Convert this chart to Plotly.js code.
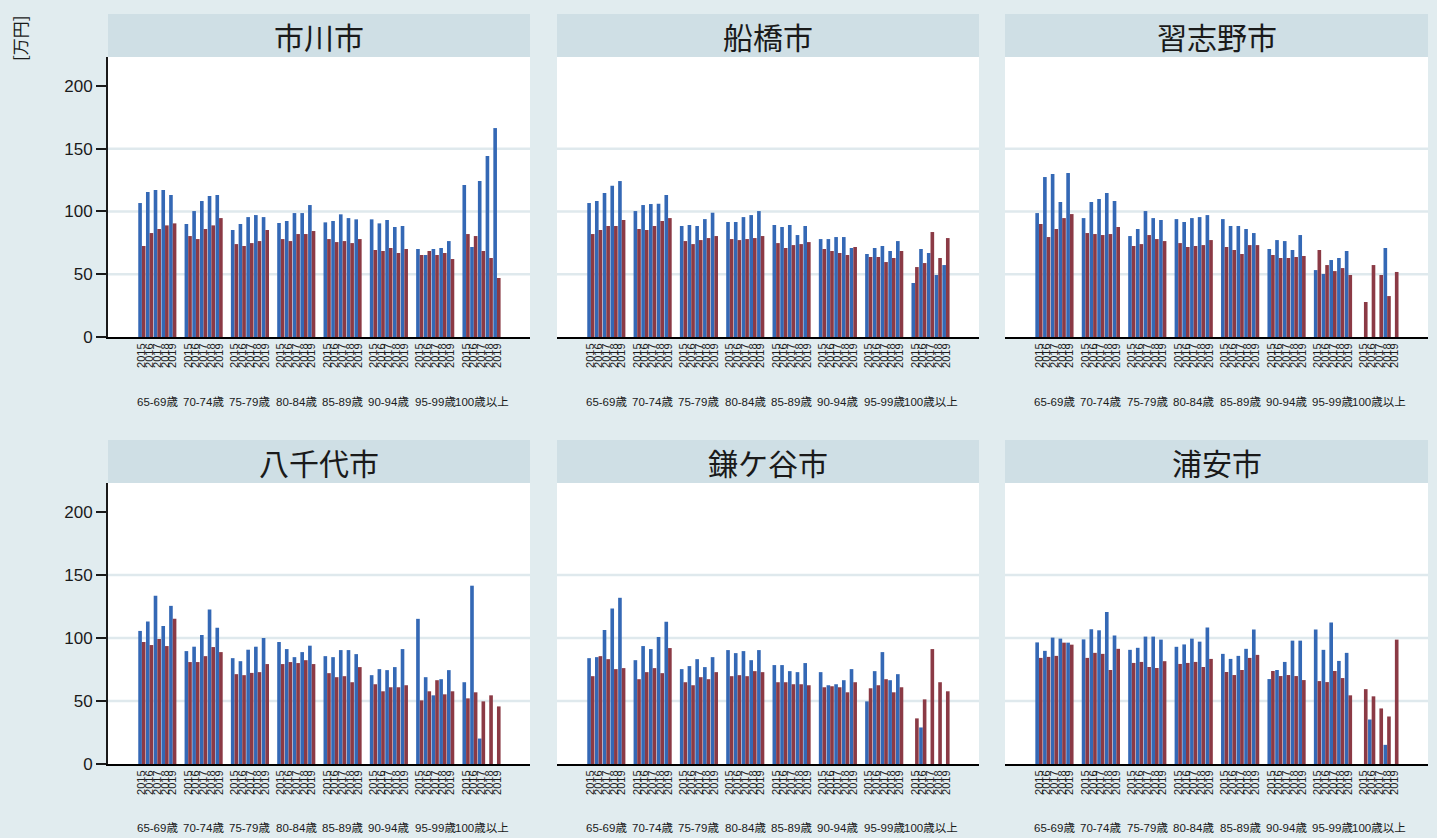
<!DOCTYPE html>
<html>
<head>
<meta charset="utf-8">
<script src="https://cdn.plot.ly/plotly-3.0.1.min.js"></script>
<style>html,body{margin:0;padding:0;background:#e1ecef;}#chart{width:1437px;height:838px;}</style>
</head>
<body>
<div id="chart"></div>
<script>
// ---- data ----
const ages = ['65-69歳','70-74歳','75-79歳','80-84歳','85-89歳','90-94歳','95-99歳','100歳以上'];
const years = ['2015','2016','2017','2018','2019'];
const cities = ['市川市','船橋市','習志野市','八千代市','鎌ケ谷市','浦安市'];

const ichikawa_blue = [106.7,115.4,117.0,117.0,113.1, 90.0,100.3,108.3,112.3,113.1, 85.2,90.0,95.5,97.1,95.5, 90.8,92.4,98.7,98.7,105.1, 91.3,92.4,97.7,94.7,93.7, 93.7,90.5,93.2,87.6,88.4, 70.1,65.3,70.1,70.9,76.4, 121.0,71.7,124.2,144.1,166.4];
const ichikawa_red = [72.5,82.8,86.0,88.9,90.5, 80.4,78.0,86.0,88.9,94.7, 74.0,72.5,74.8,76.4,85.2, 78.0,76.4,82.0,82.0,84.4, 78.0,75.6,76.4,74.8,78.0, 69.3,68.5,70.9,66.9,70.1, 65.3,68.5,65.3,66.9,62.1, 82.0,80.4,68.5,62.9,47.0];

const funabashi_blue = [106.7,108.3,114.6,120.5,124.2, 100.3,105.1,105.9,106.2,113.1, 88.4,89.2,88.4,93.9,99.0, 91.6,91.6,95.5,97.1,100.3, 89.2,87.6,89.2,81.2,88.4, 78.0,78.0,79.6,79.6,70.9, 66.1,70.9,72.5,68.5,76.4, 43.0,70.1,66.9,49.4,57.3];
const funabashi_red = [82.0,85.2,88.4,88.4,93.2, 86.0,85.2,88.4,92.4,94.7, 76.4,74.0,77.2,78.8,80.4, 78.0,77.2,78.0,78.8,80.4, 74.8,70.9,73.2,74.0,75.6, 70.1,68.5,66.9,65.3,71.7, 63.7,63.7,59.7,62.9,68.5, 55.7,58.9,83.6,62.9,78.8];

const narashino_blue = [98.7,127.4,129.8,107.5,130.6, 94.7,107.5,109.9,114.6,108.3, 80.4,86.0,100.3,94.7,93.2, 93.9,91.6,94.7,95.5,97.1, 93.9,88.4,88.4,86.0,82.8, 70.1,77.2,76.4,69.3,81.2, 53.3,50.2,61.3,62.9,68.5, null,null,null,70.9,null];
const narashino_red = [90.0,79.6,86.0,94.7,97.9, 82.8,82.0,81.2,82.0,87.6, 72.5,74.0,81.2,78.0,76.4, 74.8,71.7,72.5,73.2,77.2, 71.7,69.3,66.1,73.2,73.2, 65.3,62.9,62.9,63.7,64.5, 69.3,57.3,52.5,54.9,49.4, 27.9,57.3,49.4,32.6,51.8];

const yachiyo_blue = [105.6,113.0,133.5,109.6,125.5, 89.6,93.1,102.4,122.6,108.2, 84.0,81.6,90.7,93.1,100.0, 96.8,91.2,84.8,88.8,93.9, 85.6,84.8,90.4,90.4,87.2, 70.5,75.3,74.5,76.9,91.2, 115.2,68.9,54.5,67.3,74.5, 64.9,141.5,20.2,null,null];
const yachiyo_red = [96.8,94.4,99.2,93.6,115.2, 80.9,80.9,85.6,92.8,88.8, 71.3,70.5,72.3,72.9,79.3, 79.3,80.9,80.1,82.4,79.3, 72.1,68.9,69.7,64.9,76.9, 63.3,57.7,60.9,60.9,62.5, 50.5,57.7,66.5,55.3,57.7, 52.1,56.9,49.7,54.5,45.7];

const kamagaya_blue = [84.0,84.8,106.4,123.4,131.9, 82.4,93.6,91.2,100.8,112.8, 75.3,77.7,83.2,76.9,84.8, 90.4,88.0,89.6,82.4,90.4, 78.5,78.5,73.7,72.9,80.1, 72.9,62.5,63.3,66.5,75.3, 49.7,73.7,88.8,66.5,71.3, null,29.0,null,null,null];
const kamagaya_red = [69.7,85.6,83.2,75.3,76.1, 67.3,72.9,76.1,72.1,92.0, 64.9,62.5,68.9,67.3,72.9, 69.7,70.5,69.7,73.7,72.9, 64.9,64.9,63.3,63.3,62.5, 60.9,61.7,60.9,56.9,64.9, 60.1,62.5,67.3,56.9,60.9, 36.2,51.3,91.2,64.9,57.7];

const urayasu_blue = [96.5,89.8,100.3,99.5,96.3, 98.9,107.0,106.1,120.6,101.9, 90.6,92.2,101.1,101.1,98.7, 93.0,94.9,99.5,97.1,108.3, 87.4,83.4,85.8,91.4,106.7, 67.4,74.6,81.0,97.9,97.9, 106.7,90.6,112.3,81.8,88.2, null,35.3,null,15.2,null];
const urayasu_red = [84.2,85.0,85.8,96.3,94.7, 84.2,88.2,87.4,74.6,91.4, 80.2,81.0,77.0,76.2,81.6, 79.4,80.2,81.0,77.0,83.4, 73.0,70.6,74.6,84.2,86.6, 73.8,69.8,70.6,69.8,66.6, 65.8,65.0,73.8,68.2,54.5, 59.4,53.7,44.1,37.7,98.7];

const blueSeries = [ichikawa_blue, funabashi_blue, narashino_blue, yachiyo_blue, kamagaya_blue, urayasu_blue];
const redSeries = [ichikawa_red, funabashi_red, narashino_red, yachiyo_red, kamagaya_red, urayasu_red];
const yTicks = [0, 50, 100, 150, 200];
const gridVals = [50, 100, 150];

// ---- build ----
const W = 1437, H = 838;
const BLUE = '#3468b5', RED = '#8b3a45', STRIP = '#cfdfe5', BG = '#e1ecef', GRID = '#dfe9ed';
const FONT = 'Liberation Sans, Arial, Noto Sans CJK JP, sans-serif';
const CJK = 'Noto Sans CJK JP, Liberation Sans, sans-serif';

const barCats = [];
const allCats = [];
ages.forEach((a, i) => {
  years.forEach(y => { barCats.push(a + ' ' + y); allCats.push(a + ' ' + y); });
  if (i < ages.length - 1) allCats.push('_gap' + i);
});
const tickText = barCats.map(c => c.split(' ')[1]);

const colPx = [[108, 530], [557, 979], [1005, 1428]];
const rowPx = [[57, 337], [483, 764]];
const stripTop = [14, 440];
const ageLabelPx = [402, 828];
const fx = p => p / W, fy = p => 1 - p / H;

const data = [];
const layout = {
  width: W, height: H,
  margin: {l: 0, r: 0, t: 0, b: 0},
  paper_bgcolor: BG, plot_bgcolor: '#ffffff',
  barmode: 'group', bargap: 0.06, bargroupgap: 0,
  showlegend: false,
  font: {family: FONT, color: '#1a1a1a'},
  shapes: [], annotations: []
};

cities.forEach((city, i) => {
  const col = i % 3, row = Math.floor(i / 3);
  const sfx = i === 0 ? '' : String(i + 1);
  const xa = 'x' + sfx, ya = 'y' + sfx;
  // category order holder
  data.push({type: 'scatter', mode: 'markers', x: allCats, y: allCats.map(() => null),
    xaxis: xa, yaxis: ya, hoverinfo: 'skip', showlegend: false});
  data.push({type: 'bar', x: barCats, y: blueSeries[i], xaxis: xa, yaxis: ya,
    marker: {color: BLUE, line: {width: 0}}, name: city + ' A'});
  data.push({type: 'bar', x: barCats, y: redSeries[i], xaxis: xa, yaxis: ya,
    marker: {color: RED, line: {width: 0}}, name: city + ' B'});

  layout['xaxis' + sfx] = {
    domain: [fx(colPx[col][0]), fx(colPx[col][1])],
    anchor: ya, type: 'category',
    categoryorder: 'array', categoryarray: allCats,
    range: [-4.39, 50.28],
    showline: true, linecolor: '#000000', linewidth: 2,
    showgrid: false, zeroline: false, ticks: '',
    tickmode: 'array', tickvals: barCats, ticktext: tickText,
    tickangle: -90, tickfont: {family: FONT, size: 11, color: '#1a1a1a'},
    fixedrange: true
  };
  const left = col === 0;
  layout['yaxis' + sfx] = {
    domain: [fy(rowPx[row][1]), fy(rowPx[row][0])],
    anchor: xa, range: [0, 223],
    tickmode: 'array', tickvals: yTicks,
    showgrid: false, zeroline: false,
    showline: left, linecolor: '#1a1a1a', linewidth: 2,
    ticks: left ? 'outside' : '', ticklen: 10, tickwidth: 2, tickcolor: '#1a1a1a',
    showticklabels: left,
    tickfont: {family: FONT, size: 17, color: '#1a1a1a'},
    fixedrange: true
  };
  gridVals.forEach(v => layout.shapes.push({
    type: 'line', xref: xa + ' domain', yref: ya, x0: 0, x1: 1, y0: v, y1: v,
    line: {color: GRID, width: 2.5}, layer: 'below'
  }));
  // title strip
  layout.shapes.push({
    type: 'rect', xref: 'paper', yref: 'paper',
    x0: fx(colPx[col][0]), x1: fx(colPx[col][1]),
    y0: fy(rowPx[row][0]), y1: fy(stripTop[row]),
    fillcolor: STRIP, line: {width: 0}, layer: 'below'
  });
  layout.annotations.push({
    xref: 'paper', yref: 'paper',
    x: fx((colPx[col][0] + colPx[col][1]) / 2), y: fy((stripTop[row] + rowPx[row][0]) / 2),
    xanchor: 'center', yanchor: 'middle', showarrow: false,
    text: city, font: {family: CJK, size: 30, color: '#1a1a1a'}
  });
  ages.forEach(a => layout.annotations.push({
    xref: xa, yref: 'paper', x: a + ' 2017', y: fy(ageLabelPx[row]),
    xanchor: 'center', yanchor: 'middle', showarrow: false,
    text: a, font: {family: FONT, size: 11.5, color: '#1a1a1a'}
  }));
});

layout.annotations.push({
  xref: 'paper', yref: 'paper', x: fx(20), y: fy(38),
  xanchor: 'center', yanchor: 'middle', showarrow: false, textangle: -90,
  text: '[万円]', font: {family: CJK, size: 17, color: '#1a1a1a'}
});

Plotly.newPlot('chart', data, layout, {staticPlot: true, displayModeBar: false});
</script>
</body>
</html>
